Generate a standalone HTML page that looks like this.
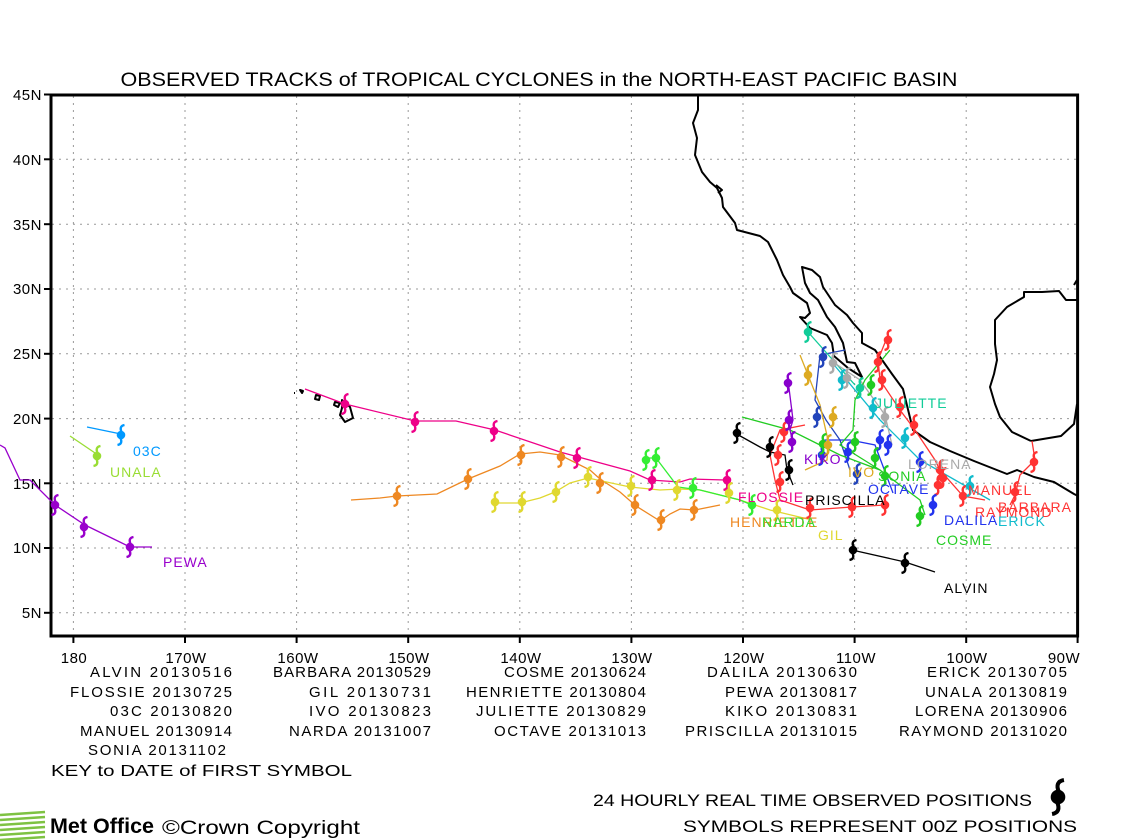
<!DOCTYPE html>
<html><head><meta charset="utf-8"><style>
html,body{margin:0;padding:0;background:#fff;}
svg{display:block;font-family:"Liberation Sans",sans-serif;}
</style></head><body>
<svg width="1130" height="840" viewBox="0 0 1130 840" xmlns="http://www.w3.org/2000/svg">
<defs>
<g id="c"><circle cx="0" cy="0" r="4.3" fill="currentColor"/><path d="M0.5,-3 Q-2,-9 3.5,-10 M-0.5,3 Q2,9 -3.5,10" stroke="currentColor" stroke-width="2.4" fill="none"/></g>
</defs>
<rect width="1130" height="840" fill="#fff"/>
<text x="539" y="86" font-size="19" text-anchor="middle" textLength="837" lengthAdjust="spacingAndGlyphs">OBSERVED TRACKS of TROPICAL CYCLONES in the NORTH-EAST PACIFIC BASIN</text>
<g stroke="#999" stroke-width="1" stroke-dasharray="2,5">
<line x1="73.4" y1="96" x2="73.4" y2="635"/><line x1="185" y1="96" x2="185" y2="635"/><line x1="296.6" y1="96" x2="296.6" y2="635"/><line x1="408.2" y1="96" x2="408.2" y2="635"/><line x1="519.8" y1="96" x2="519.8" y2="635"/><line x1="631.4" y1="96" x2="631.4" y2="635"/><line x1="743" y1="96" x2="743" y2="635"/><line x1="854.6" y1="96" x2="854.6" y2="635"/><line x1="966.2" y1="96" x2="966.2" y2="635"/>
<line x1="52" y1="159.3" x2="1077" y2="159.3"/><line x1="52" y1="224.2" x2="1077" y2="224.2"/><line x1="52" y1="289" x2="1077" y2="289"/><line x1="52" y1="353.8" x2="1077" y2="353.8"/><line x1="52" y1="418.6" x2="1077" y2="418.6"/><line x1="52" y1="483.3" x2="1077" y2="483.3"/><line x1="52" y1="548" x2="1077" y2="548"/><line x1="52" y1="612.8" x2="1077" y2="612.8"/>
</g>
<g stroke="#000" stroke-width="2" fill="none" stroke-linejoin="round">
<polyline points="698,95 698,110 693,123 697,138 695,155 702,172 710,182 717,188 722,198 723,207 735,223 737,230 760,236 768,242 777,260 783,275 790,287 793,293 807,303 810,313 805,318 800,317 810,328 827,335 832,343 834,356 848,368 862,377 855,363 847,362 843,343 835,327 827,317 818,300 810,293 805,283 802,267 812,270 820,277 823,287 835,305 847,315 853,323 862,333 862,343 875,350 880,357 892,374 903,389 913,430 930,442 950,451 974,461 1007,474 1017,470 1034,477 1054,482 1074,494 1078,496"/>
<polyline points="1031,441 1012,432 1000,417 995,404 990,387 994,374 997,360 995,344 995,320 1007,307 1024,297 1024,292 1042,292 1059,291 1066,300 1077,300"/>
<polyline points="1031,441 1061,436 1074,424 1077,404"/>
<polyline points="1074,285 1077,280"/>
<polyline points="716,185 722,190 718,193"/>
<polygon points="342,400 350,407 353,418 345,422 340,415 342,408"/>
<polygon points="316,395 320,396 319,400 315,399"/>
<polygon points="335,402 340,403 338,407 334,405"/>
<polygon points="300,390 303,391 302,393"/>
<line x1="294" y1="393" x2="295" y2="393"/>
</g>
<rect x="51" y="95" width="1026.6" height="541" fill="none" stroke="#000" stroke-width="3"/>
<g stroke="#000" stroke-width="2">
<line x1="73.4" y1="636" x2="73.4" y2="643"/><line x1="185" y1="636" x2="185" y2="643"/><line x1="296.6" y1="636" x2="296.6" y2="643"/><line x1="408.2" y1="636" x2="408.2" y2="643"/><line x1="519.8" y1="636" x2="519.8" y2="643"/><line x1="631.4" y1="636" x2="631.4" y2="643"/><line x1="743" y1="636" x2="743" y2="643"/><line x1="854.6" y1="636" x2="854.6" y2="643"/><line x1="966.2" y1="636" x2="966.2" y2="643"/><line x1="1077.6" y1="636" x2="1077.6" y2="643"/>
<line x1="44" y1="94.5" x2="51" y2="94.5"/><line x1="44" y1="159.3" x2="51" y2="159.3"/><line x1="44" y1="224.2" x2="51" y2="224.2"/><line x1="44" y1="289" x2="51" y2="289"/><line x1="44" y1="353.8" x2="51" y2="353.8"/><line x1="44" y1="418.6" x2="51" y2="418.6"/><line x1="44" y1="483.3" x2="51" y2="483.3"/><line x1="44" y1="548" x2="51" y2="548"/><line x1="44" y1="612.8" x2="51" y2="612.8"/>
</g>
<g font-size="15" text-anchor="end" letter-spacing="0.5">
<text x="42" y="100">45N</text><text x="42" y="165">40N</text><text x="42" y="230">35N</text><text x="42" y="294">30N</text><text x="42" y="359">25N</text><text x="42" y="424">20N</text><text x="42" y="489">15N</text><text x="42" y="553">10N</text><text x="42" y="618">5N</text>
</g>
<g font-size="15" text-anchor="middle" letter-spacing="0.5">
<text x="74" y="663">180</text><text x="186" y="663">170W</text><text x="298" y="663">160W</text><text x="409" y="663">150W</text><text x="521" y="663">140W</text><text x="632" y="663">130W</text><text x="744" y="663">120W</text><text x="856" y="663">110W</text><text x="967" y="663">100W</text><text x="1064" y="663">90W</text>
</g>
<g fill="none" stroke-width="1.3">
<polyline stroke="#9900cc" points="0,445 5,448 20,480 30,480 55,505 85,525 130,547 152,547"/>
<polyline stroke="#99dd33" points="70,436 98,455"/>
<polyline stroke="#0099ff" points="87,427 121,434"/>
<polyline stroke="#ee0088" points="305,389 345,404 415,421 456,421 495,430 560,452 630,471 650,480 680,482 690,479 725,480"/>
<polyline stroke="#ee8822" points="351,500 380,498 397,496 437,494 468,479 500,466 520,454 540,452 560,455 590,470 600,479 620,492 636,506 660,521 670,514 680,509 695,510 720,505"/>
<polyline stroke="#e0d830" points="494,503 520,503 540,498 555,492 570,483 588,478 630,487 660,490 680,489 700,490 740,500 770,510 812,520"/>
<polyline stroke="#33ee33" points="648,458 656,458 678,487 700,490 740,500 752,505"/>
<polyline stroke="#000" points="733,432 760,447 770,452 785,455 787,470 793,485"/>
<polyline stroke="#000" points="852,550 905,562 935,572"/>
<polyline stroke="#ff3333" points="888,335 878,360 880,380 900,410 915,430 935,460 940,470 963,496 985,500"/>
<polyline stroke="#ff3333" points="885,505 852,507 810,510 780,500 775,480 770,455 780,430 805,425"/>
<polyline stroke="#ff3333" points="1032,441 1035,460 1020,475 1015,495 1010,505"/>
<polyline stroke="#2233ee" points="893,493 875,445 850,440 825,440 822,455 820,460"/>
<polyline stroke="#2244bb" points="845,350 820,355 815,400 826,420 840,440 850,470"/>
<polyline stroke="#11cc99" points="808,332 855,385"/>
<polyline stroke="#11bbcc" points="830,360 880,420 920,460 990,500"/>
<polyline stroke="#aaaaaa" points="830,360 860,380 885,415 892,445"/>
<polyline stroke="#22cc22" points="890,350 865,380 855,400 853,430 840,445 880,470 920,500 925,515"/>
<polyline stroke="#22cc22" points="742,417 790,430 840,455 880,470"/>
<polyline stroke="#8800cc" points="788,380 793,420 790,430 793,443"/>
<polyline stroke="#ddaa22" points="800,355 820,405 828,440 827,460 805,470"/>
</g>
<g>
<use href="#c" x="55" y="505" style="color:#9900cc"/><use href="#c" x="84" y="527" style="color:#9900cc"/><use href="#c" x="130" y="547" style="color:#9900cc"/>
<use href="#c" x="97" y="456" style="color:#99dd33"/><use href="#c" x="121" y="435" style="color:#0099ff"/>
<use href="#c" x="345" y="404" style="color:#ee0088"/><use href="#c" x="415" y="422" style="color:#ee0088"/><use href="#c" x="494" y="431" style="color:#ee0088"/><use href="#c" x="577" y="458" style="color:#ee0088"/><use href="#c" x="652" y="480" style="color:#ee0088"/><use href="#c" x="727" y="480" style="color:#ee0088"/>
<use href="#c" x="397" y="496" style="color:#ee8822"/><use href="#c" x="468" y="479" style="color:#ee8822"/><use href="#c" x="521" y="455" style="color:#ee8822"/><use href="#c" x="561" y="457" style="color:#ee8822"/><use href="#c" x="600" y="483" style="color:#ee8822"/><use href="#c" x="635" y="505" style="color:#ee8822"/><use href="#c" x="661" y="520" style="color:#ee8822"/><use href="#c" x="694" y="510" style="color:#ee8822"/>
<use href="#c" x="495" y="502" style="color:#e0d830"/><use href="#c" x="522" y="502" style="color:#e0d830"/><use href="#c" x="556" y="492" style="color:#e0d830"/><use href="#c" x="588" y="477" style="color:#e0d830"/><use href="#c" x="631" y="486" style="color:#e0d830"/><use href="#c" x="677" y="490" style="color:#e0d830"/><use href="#c" x="729" y="493" style="color:#e0d830"/><use href="#c" x="777" y="510" style="color:#e0d830"/>
<use href="#c" x="646" y="460" style="color:#33ee33"/><use href="#c" x="656" y="458" style="color:#33ee33"/><use href="#c" x="693" y="488" style="color:#33ee33"/><use href="#c" x="752" y="505" style="color:#33ee33"/>
<use href="#c" x="737" y="433" style="color:#000"/><use href="#c" x="770" y="447" style="color:#000"/><use href="#c" x="789" y="470" style="color:#000"/><use href="#c" x="853" y="550" style="color:#000"/><use href="#c" x="905" y="563" style="color:#000"/>
<use href="#c" x="888" y="340" style="color:#ff3333"/><use href="#c" x="878" y="362" style="color:#ff3333"/><use href="#c" x="882" y="380" style="color:#ff3333"/><use href="#c" x="900" y="407" style="color:#ff3333"/><use href="#c" x="914" y="425" style="color:#ff3333"/><use href="#c" x="940" y="470" style="color:#ff3333"/><use href="#c" x="943" y="478" style="color:#ff3333"/><use href="#c" x="938" y="485" style="color:#ff3333"/><use href="#c" x="963" y="496" style="color:#ff3333"/><use href="#c" x="1015" y="492" style="color:#ff3333"/><use href="#c" x="1034" y="462" style="color:#ff3333"/><use href="#c" x="852" y="507" style="color:#ff3333"/><use href="#c" x="810" y="508" style="color:#ff3333"/><use href="#c" x="780" y="482" style="color:#ff3333"/><use href="#c" x="778" y="455" style="color:#ff3333"/><use href="#c" x="784" y="432" style="color:#ff3333"/><use href="#c" x="885" y="505" style="color:#ff3333"/>
<use href="#c" x="880" y="440" style="color:#2233ee"/><use href="#c" x="888" y="445" style="color:#2233ee"/><use href="#c" x="848" y="452" style="color:#2233ee"/><use href="#c" x="822" y="455" style="color:#2233ee"/><use href="#c" x="933" y="505" style="color:#2233ee"/><use href="#c" x="920" y="462" style="color:#2233ee"/>
<use href="#c" x="823" y="357" style="color:#2244bb"/><use href="#c" x="817" y="417" style="color:#2244bb"/><use href="#c" x="857" y="474" style="color:#2244bb"/>
<use href="#c" x="808" y="332" style="color:#11cc99"/><use href="#c" x="860" y="388" style="color:#11cc99"/>
<use href="#c" x="842" y="380" style="color:#11bbcc"/><use href="#c" x="873" y="408" style="color:#11bbcc"/><use href="#c" x="905" y="438" style="color:#11bbcc"/><use href="#c" x="970" y="486" style="color:#11bbcc"/>
<use href="#c" x="833" y="363" style="color:#aaaaaa"/><use href="#c" x="847" y="378" style="color:#aaaaaa"/><use href="#c" x="885" y="417" style="color:#aaaaaa"/>
<use href="#c" x="871" y="385" style="color:#22cc22"/><use href="#c" x="855" y="442" style="color:#22cc22"/><use href="#c" x="875" y="458" style="color:#22cc22"/><use href="#c" x="920" y="516" style="color:#22cc22"/><use href="#c" x="823" y="444" style="color:#22cc22"/><use href="#c" x="885" y="476" style="color:#22cc22"/>
<use href="#c" x="788" y="383" style="color:#8800cc"/><use href="#c" x="789" y="420" style="color:#8800cc"/><use href="#c" x="792" y="442" style="color:#8800cc"/>
<use href="#c" x="808" y="375" style="color:#ddaa22"/><use href="#c" x="833" y="417" style="color:#ddaa22"/><use href="#c" x="828" y="445" style="color:#ddaa22"/>
</g>
<g font-size="14" letter-spacing="1">
<text x="163" y="567" fill="#9900cc">PEWA</text>
<text x="110" y="477" fill="#99dd33">UNALA</text>
<text x="133" y="456" fill="#0099ff">03C</text>
<text x="738" y="502" fill="#ee0088">FLOSSIE</text>
<text x="730" y="527" fill="#ee8822">HENRIETTE</text>
<text x="762" y="527" fill="#33dd33">NARDA</text>
<text x="818" y="540" fill="#e0d830">GIL</text>
<text x="805" y="505" fill="#000">PRISCILLA</text>
<text x="944" y="593" fill="#000">ALVIN</text>
<text x="804" y="464" fill="#8800cc">KIKO</text>
<text x="848" y="477" fill="#ddaa22">IVO</text>
<text x="875" y="408" fill="#11cc99">JULIETTE</text>
<text x="908" y="469" fill="#aaaaaa">LORENA</text>
<text x="878" y="481" fill="#22cc22">SONIA</text>
<text x="868" y="494" fill="#2233ee">OCTAVE</text>
<text x="968" y="495" fill="#ff3333">MANUEL</text>
<text x="998" y="512" fill="#ff3333">BARBARA</text>
<text x="975" y="517" fill="#ff3333">RAYMOND</text>
<text x="944" y="525" fill="#2233ee">DALILA</text>
<text x="998" y="526" fill="#11bbcc">ERICK</text>
<text x="936" y="545" fill="#22cc22">COSME</text>
</g>
<g font-size="15" text-anchor="end" lengthAdjust="spacingAndGlyphs">
<text x="232" y="677" textLength="142">ALVIN 20130516</text><text x="431" y="677" textLength="158">BARBARA 20130529</text><text x="646" y="677" textLength="142">COSME 20130624</text><text x="857" y="677" textLength="150">DALILA 20130630</text><text x="1067" y="677" textLength="140">ERICK 20130705</text>
<text x="232" y="697" textLength="162">FLOSSIE 20130725</text><text x="431" y="697" textLength="122">GIL 20130731</text><text x="646" y="697" textLength="180">HENRIETTE 20130804</text><text x="857" y="697" textLength="132">PEWA 20130817</text><text x="1067" y="697" textLength="142">UNALA 20130819</text>
<text x="232" y="716" textLength="122">03C 20130820</text><text x="431" y="716" textLength="122">IVO 20130823</text><text x="646" y="716" textLength="170">JULIETTE 20130829</text><text x="857" y="716" textLength="132">KIKO 20130831</text><text x="1067" y="716" textLength="152">LORENA 20130906</text>
<text x="232" y="736" textLength="152">MANUEL 20130914</text><text x="431" y="736" textLength="142">NARDA 20131007</text><text x="646" y="736" textLength="152">OCTAVE 20131013</text><text x="857" y="736" textLength="172">PRISCILLA 20131015</text><text x="1067" y="736" textLength="168">RAYMOND 20131020</text>
<text x="226" y="755" textLength="138">SONIA 20131102</text>
</g>
<text x="51" y="776" font-size="16" textLength="301" lengthAdjust="spacingAndGlyphs">KEY to DATE of FIRST SYMBOL</text>
<text x="593" y="806" font-size="17" textLength="439" lengthAdjust="spacingAndGlyphs">24 HOURLY REAL TIME OBSERVED POSITIONS</text>
<g transform="translate(1058,797) scale(1.7)"><use href="#c" x="0" y="0" style="color:#000"/></g>
<text x="683" y="832" font-size="17" textLength="394" lengthAdjust="spacingAndGlyphs">SYMBOLS REPRESENT 00Z POSITIONS</text>
<g stroke="#7ec242" stroke-width="2.5">
<line x1="0" y1="815" x2="45" y2="812"/><line x1="0" y1="820" x2="45" y2="817"/><line x1="0" y1="825" x2="45" y2="822"/><line x1="0" y1="830" x2="45" y2="827"/><line x1="0" y1="835" x2="45" y2="832"/><line x1="0" y1="840" x2="45" y2="837"/>
</g>
<text x="50" y="833" font-size="21" font-weight="bold" textLength="104" lengthAdjust="spacingAndGlyphs">Met Office</text>
<text x="162" y="834" font-size="19" textLength="198" lengthAdjust="spacingAndGlyphs">©Crown Copyright</text>
</svg>
</body></html>
